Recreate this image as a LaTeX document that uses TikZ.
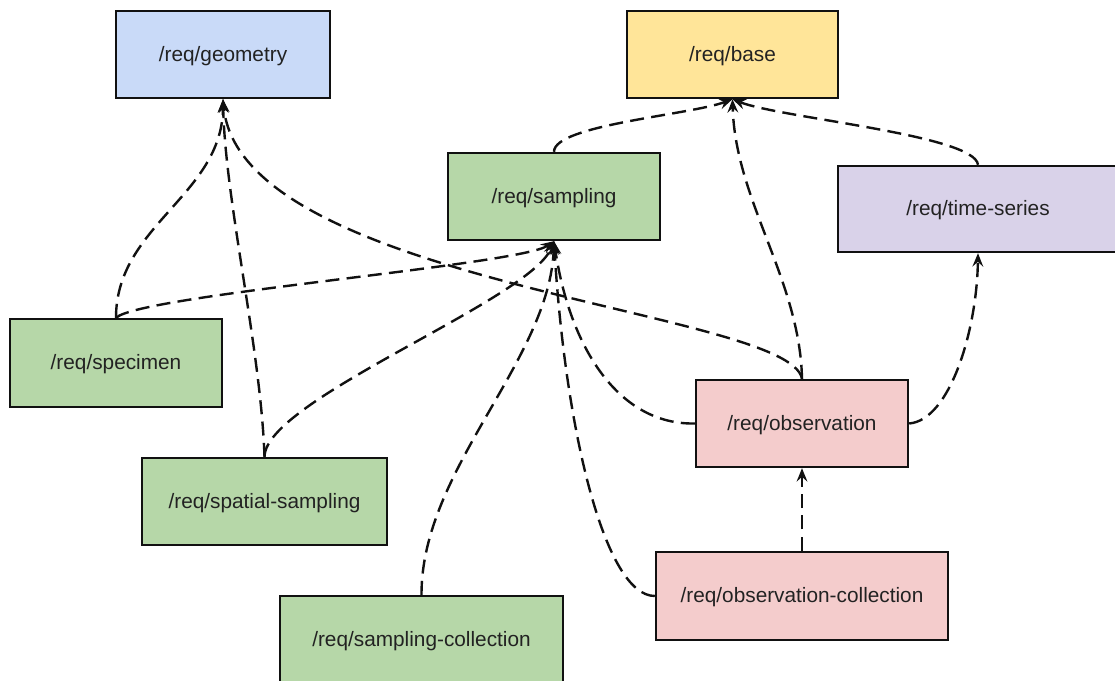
\documentclass[tikz,border=0pt]{standalone}
\usepackage{fontspec}
\setmainfont{Liberation Sans}
\usetikzlibrary{arrows.meta}
\definecolor{geoblue}{HTML}{C9DAF8}
\definecolor{baseyellow}{HTML}{FFE599}
\definecolor{sampgreen}{HTML}{B6D7A8}
\definecolor{tspurple}{HTML}{D9D2E9}
\definecolor{obspink}{HTML}{F4CCCC}
\definecolor{edgegray}{HTML}{111111}
\definecolor{txtgray}{HTML}{222222}
\tikzset{
  reqbox/.style={draw=edgegray, line width=1.8pt, rectangle, inner sep=0pt,
    font=\fontsize{15.6pt}{18pt}\selectfont, text=txtgray,
    text height=11.5pt, text depth=1.5pt},
  dep/.style={line width=1.8pt, dash pattern=on 10.5pt off 5.5pt, edgegray,
    -{Stealth[length=10pt,width=8pt,inset=3.5pt]}}
}
\begin{document}
\begin{tikzpicture}[x=0.75pt,y=-0.75pt]
\useasboundingbox (0,0) rectangle (1115,681);
\clip (0,0) rectangle (1115,681);
\fill[white] (0,0) rectangle (1115,681);

\node[reqbox, fill=geoblue, minimum width=160.5pt, minimum height=65.25pt] (geo) at (223,54.5) {/req/geometry};
\node[reqbox, fill=baseyellow, minimum width=158.25pt, minimum height=65.25pt] (base) at (732.5,54.5) {/req/base};
\node[reqbox, fill=sampgreen, minimum width=159pt, minimum height=65.25pt] (samp) at (554,196.5) {/req/sampling};
\node[reqbox, fill=tspurple, minimum width=210pt, minimum height=64.5pt] (ts) at (978,209) {/req/time-series};
\node[reqbox, fill=sampgreen, minimum width=159pt, minimum height=66pt] (spec) at (116,363) {/req/specimen};
\node[reqbox, fill=obspink, minimum width=159pt, minimum height=65.25pt] (obs) at (802,423.5) {/req/observation};
\node[reqbox, fill=sampgreen, minimum width=183.75pt, minimum height=65.25pt] (spat) at (264.5,501.5) {/req/spatial-sampling};
\node[reqbox, fill=obspink, minimum width=219pt, minimum height=66pt] (obsc) at (802,596) {/req/observation-collection};
\node[reqbox, fill=sampgreen, minimum width=212.25pt, minimum height=66pt] (sampc) at (421.5,640) {/req/sampling-collection};

% to geometry
\draw[dep] (spec.north) .. controls (116,225) and (223,195) .. (geo.south);
\draw[dep] (spat.north) .. controls (261,350) and (225,200) .. (geo.south);
\draw[dep] (obs.north) .. controls (790,310) and (240,285) .. (geo.south);
% to sampling
\draw[dep] (spec.north) .. controls (140,295) and (520,265) .. (samp.south);
\draw[dep] (spat.north) .. controls (265,400) and (530,300) .. (samp.south);
\draw[dep] (sampc.north) .. controls (421,470) and (550,360) .. (samp.south);
\draw[dep] (obs.west) .. controls (620,425) and (570,350) .. (samp.south);
\draw[dep] (obsc.west) .. controls (605,596) and (565,430) .. (samp.south);
% to base
\draw[dep] (samp.north) .. controls (554,125) and (690,115) .. (base.south);
\draw[dep] (obs.north) .. controls (800,280) and (735,200) .. (base.south);
\draw[dep] (ts.north) .. controls (975,135) and (780,118) .. (base.south);
% to time-series
\draw[dep] (obs.east) .. controls (950,420) and (977,330) .. (ts.south);
% to observation
\draw[dep] (obsc.north) -- (obs.south);
\end{tikzpicture}
\end{document}
